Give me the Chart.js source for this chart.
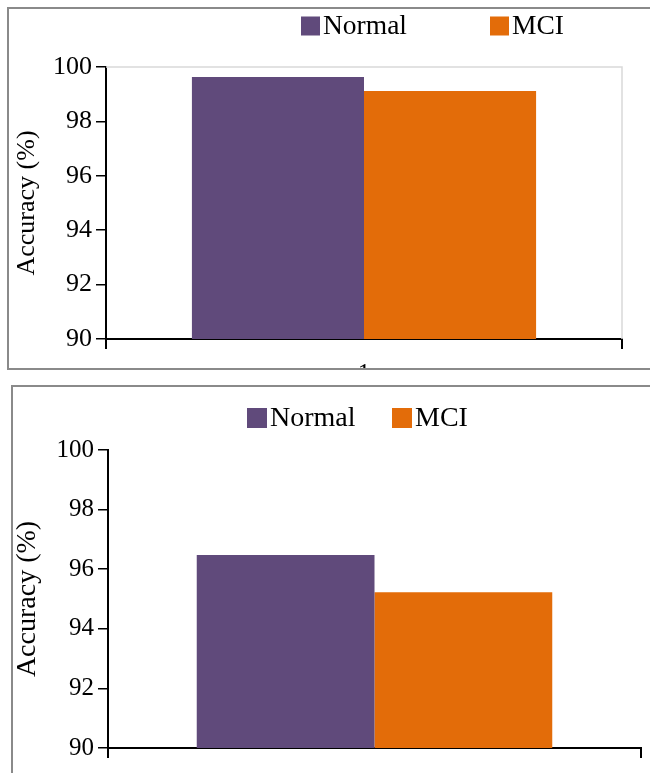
<!DOCTYPE html>
<html lang="en">
<head>
<meta charset="UTF-8">
<title>Accuracy - Normal vs MCI</title>
<script src="https://cdn.jsdelivr.net/npm/chart.js@4"></script>
<style>
  body { margin: 0; background: #fff; width: 650px; height: 773px; overflow: hidden; position: relative; }
  .box { position: absolute; border: 2px solid #8a8a8a; overflow: hidden; background: #fff; }
  #box1 { left: 7px; top: 7px; width: 700px; height: 359px; }
  #box2 { left: 11px; top: 385px; width: 700px; height: 500px; }
  canvas { position: absolute; }
  #chart1 { left: -9px; top: -9px; }
  #chart2 { left: -13px; top: -7px; }
  /* forces the serif face to be loaded before the canvas uses it */
  #fontWarm { position: absolute; left: -999px; top: 0; font-family: 'Liberation Serif'; font-size: 26px; }
</style>
</head>
<body>
<div id="fontWarm">Accuracy (%) Normal MCI 0123456789</div>
<div class="box" id="box1"><canvas id="chart1" width="650" height="400"></canvas></div>
<div class="box" id="box2"><canvas id="chart2" width="650" height="393"></canvas></div>

<script>
// data
const categories = ['1'];
const seriesNames = ['Normal', 'MCI'];
const seriesColors = ['#604A7B', '#E36C09'];
const topNormal = [99.63];
const topMCI = [99.12];
const bottomNormal = [96.48];
const bottomMCI = [95.23];
const yTicks = [90, 92, 94, 96, 98, 100];

const serif = "'Liberation Serif'";

// legend: square + label, drawn where the original has it
const squareLegend = {
    id: 'squareLegend',
    afterDraw(chart, args, opts) {
        const ctx = chart.ctx;
        ctx.save();
        ctx.font = opts.size + 'px ' + serif;
        ctx.textBaseline = 'middle';
        chart.data.datasets.forEach((ds, i) => {
            const x = opts.x[i];
            ctx.fillStyle = ds.backgroundColor;
            ctx.fillRect(x, opts.y - opts.box / 2, opts.box, opts.box);
            ctx.fillStyle = '#000';
            ctx.fillText(ds.label, x + opts.box + opts.gap, opts.y + 1);
        });
        ctx.restore();
    }
};

// light grey frame on top and right of the plot area (top chart only)
const plotFrame = {
    id: 'plotFrame',
    beforeDatasetsDraw(chart, args, opts) {
        if (!opts.color) return;
        const { left, top, right, bottom } = chart.chartArea;
        const ctx = chart.ctx;
        ctx.save();
        ctx.strokeStyle = opts.color;
        ctx.lineWidth = 1.5;
        ctx.beginPath();
        ctx.moveTo(left, top);
        ctx.lineTo(right, top);
        ctx.lineTo(right, bottom);
        ctx.stroke();
        ctx.restore();
    }
};

function makeChart(id, normal, mci, s) {
    const ctx = document.getElementById(id).getContext('2d');
    return new Chart(ctx, {
        type: 'bar',
        data: {
            labels: categories,
            datasets: [
                { label: seriesNames[0], data: normal, backgroundColor: seriesColors[0] },
                { label: seriesNames[1], data: mci, backgroundColor: seriesColors[1] }
            ]
        },
        plugins: [squareLegend, plotFrame],
        options: {
            responsive: false,
            animation: false,
            categoryPercentage: 0.667,
            barPercentage: 1.0,
            layout: { padding: { top: s.top, right: s.right, left: 0, bottom: 0 } },
            plugins: {
                legend: { display: false },
                tooltip: { enabled: false },
                squareLegend: s.legend,
                plotFrame: { color: s.frame }
            },
            scales: {
                x: {
                    z: 1,
                    afterFit: (scale) => { scale.height = s.xHeight; },
                    border: { color: '#000', width: 2 },
                    grid: { offset: true, drawOnChartArea: false, drawTicks: true, tickLength: 10, color: '#000', lineWidth: 2 },
                    ticks: { color: '#000', padding: 10, font: { family: serif, size: 25 } }
                },
                y: {
                    z: 1,
                    min: yTicks[0],
                    max: yTicks[yTicks.length - 1],
                    afterFit: (scale) => { scale.width = s.yWidth; },
                    border: { color: '#000', width: 2 },
                    grid: { drawOnChartArea: false, drawTicks: true, tickLength: 10, color: '#000', lineWidth: 1.5 },
                    ticks: { stepSize: yTicks[1] - yTicks[0], color: '#000', padding: 4, font: { family: serif, size: s.tickSize } },
                    title: {
                        display: true,
                        text: 'Accuracy (%)',
                        color: '#000',
                        padding: { top: s.titlePad, bottom: 0 },
                        font: { family: serif, size: s.titleSize }
                    }
                }
            }
        }
    });
}

function drawAll() {
    makeChart('chart1', topNormal, topMCI, {
        top: 67, right: 28, xHeight: 61, yWidth: 106,
        tickSize: 26, titleSize: 26, titlePad: 12, frame: '#d9d9d9',
        legend: { x: [301, 490], y: 26, box: 19, gap: 3, size: 27.5 }
    });

    makeChart('chart2', bottomNormal, bottomMCI, {
        top: 70, right: 9, xHeight: 25, yWidth: 108,
        tickSize: 25, titleSize: 28, titlePad: 11, frame: null,
        legend: { x: [247, 392], y: 38, box: 20, gap: 3, size: 28 }
    });
}

// wait for the serif face, then draw
document.fonts.load("26px 'Liberation Serif'").then(drawAll, drawAll);
</script>
</body>
</html>
